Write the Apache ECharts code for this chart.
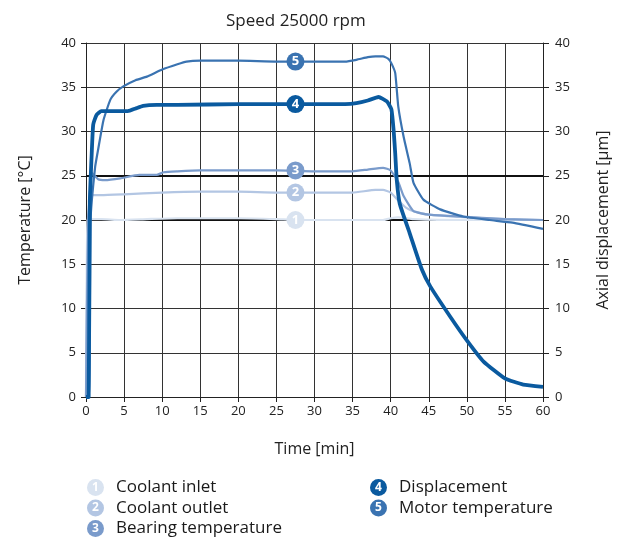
<!DOCTYPE html>
<html>
<head>
<meta charset="utf-8">
<script src="https://cdn.jsdelivr.net/npm/echarts@6/dist/echarts.min.js"></script>
<style>html,body{margin:0;padding:0;background:#fff}#c{width:621px;height:539px}</style>
</head>
<body>
<div id="c"></div>
<script>
// ---- data ----
const seriesNames = ['Coolant inlet', 'Coolant outlet', 'Bearing temperature', 'Displacement', 'Motor temperature'];
const seriesColors = ['#d9e3f0', '#b3c6e3', '#7a9bcb', '#0a5a9f', '#3a73b1'];

const inletTime = [0, 0.2, 1, 2, 4.5, 8, 12, 20, 25, 27.5, 30, 35, 39, 40, 41, 43, 50, 60];
const inletTemp = [0, 20, 20.1, 20.1, 20.0, 20.1, 20.2, 20.2, 20.1, 20.0, 20.0, 20.0, 20.0, 20.2, 20.3, 20.1, 20.0, 20.0];

const outletTime = [0, 0.25, 0.8, 2, 5, 10, 15, 20, 25, 30, 35, 38, 39, 40, 41, 42, 43, 45, 50, 55, 60];
const outletTemp = [0, 20, 22.8, 22.8, 22.9, 23.1, 23.2, 23.2, 23.1, 23.1, 23.1, 23.4, 23.4, 23.1, 22.2, 21.4, 21.0, 20.6, 20.3, 20.1, 20.0];

const bearingTime = [0, 0.3, 0.8, 1.6, 2.5, 4.5, 7, 9.3, 10.2, 12, 15, 20, 25, 30, 35, 37, 39, 40, 41, 41.7, 43, 45, 49, 55, 60];
const bearingTemp = [0, 20, 25.3, 24.6, 24.5, 24.7, 25.1, 25.1, 25.4, 25.5, 25.6, 25.6, 25.6, 25.5, 25.5, 25.7, 25.9, 25.6, 24.3, 22.7, 21.0, 20.6, 20.4, 20.1, 20.0];

const displTime = [0, 0.35, 0.5, 0.75, 0.95, 1.4, 2, 3.5, 5.5, 6.5, 7.5, 9.3, 12, 20, 30, 34, 35.5, 37, 38.4, 39.5, 40.1, 40.4, 40.6, 40.8, 41.2, 42.5, 44.1, 45.2, 47.8, 50, 52.2, 55, 57.4, 60];
const displValue = [0, 0, 22, 27.5, 30.8, 31.9, 32.3, 32.3, 32.3, 32.6, 32.9, 33.0, 33.0, 33.1, 33.1, 33.1, 33.2, 33.5, 33.9, 33.4, 32.5, 30.0, 27.5, 24.5, 21.8, 18.5, 14.4, 12.5, 9.1, 6.4, 4.0, 2.1, 1.4, 1.15];

const motorTime = [0, 0.4, 0.6, 1.2, 1.6, 2.3, 3.2, 4.0, 4.9, 6.5, 8, 10, 12, 13.2, 15, 20, 25, 30, 34, 35.5, 37, 38, 39, 39.7, 40.1, 40.6, 41, 41.7, 42.5, 43, 44.3, 46.5, 49.5, 53, 56, 60];
const motorTemp = [0, 0, 20, 26, 28, 31.3, 33.6, 34.5, 35.1, 35.8, 36.2, 37.0, 37.6, 37.9, 38.0, 38.0, 37.9, 37.9, 37.9, 38.1, 38.4, 38.5, 38.5, 38.2, 37.7, 36.6, 32.8, 29.4, 26.4, 24.2, 22.3, 21.2, 20.4, 20.0, 19.7, 19.0];

const markerTime = 27.5;
const markerValues = [20.0, 23.1, 25.6, 33.1, 37.9];

const yTicks = [0, 5, 10, 15, 20, 25, 30, 35, 40];
const xTicks = [0, 5, 10, 15, 20, 25, 30, 35, 40, 45, 50, 55, 60];
const heavyGridValues = [20, 25];

// ---- build ----
const FONT = '"Open Sans", "DejaVu Sans", sans-serif';
const zip = (a, b) => a.map((v, i) => [v, b[i]]);
const seriesData = [
  zip(inletTime, inletTemp),
  zip(outletTime, outletTemp),
  zip(bearingTime, bearingTemp),
  zip(displTime, displValue),
  zip(motorTime, motorTemp)
];

const rich = { s: { width: 12 }, t: { fontSize: 17, color: '#1a1a1a', fontFamily: FONT, lineHeight: 20 } };
seriesNames.forEach((n, i) => {
  rich['b' + i] = {
    backgroundColor: seriesColors[i], borderRadius: 9, width: 17, height: 17, lineHeight: 17,
    align: 'center', color: '#fff', fontSize: 12, fontWeight: 'bold', fontFamily: FONT
  };
});
const legendFormatter = name => {
  const i = seriesNames.indexOf(name);
  return '{b' + i + '|' + (i + 1) + '}{s|}{t|' + name + '}';
};

function makeSeries(i, z) {
  return {
    name: seriesNames[i],
    type: 'line',
    yAxisIndex: i === 3 ? 1 : 0,
    data: seriesData[i],
    showSymbol: false,
    symbol: 'none',
    smooth: 0.15,
    z: z,
    lineStyle: { color: seriesColors[i], width: i === 3 ? 3.8 : 2.2 },
    itemStyle: { color: seriesColors[i] },
    markPoint: {
      z: 20,
      symbol: 'circle',
      symbolSize: 18,
      itemStyle: { color: seriesColors[i] },
      label: { show: true, position: 'inside', formatter: String(i + 1), color: '#fff', fontWeight: 'bold', fontSize: 13, fontFamily: FONT },
      data: [{ coord: [markerTime, markerValues[i]] }]
    }
  };
}

const axisText = { fontSize: 13, color: '#222', fontFamily: FONT };

const option = {
  animation: false,
  backgroundColor: '#fff',
  title: {
    text: 'Speed 25000 rpm', left: 221, top: 8,
    textStyle: { fontSize: 17, fontWeight: 'normal', color: '#222', fontFamily: FONT }
  },
  grid: { left: 86, right: 78, top: 43, bottom: 142 },
  legend: [
    {
      data: seriesNames.slice(0, 3), orient: 'vertical', left: 81, top: 479, height: 90,
      itemWidth: 0, itemHeight: 0, itemGap: 3.5, padding: 0, formatter: legendFormatter,
      textStyle: { rich: rich, fontFamily: FONT }, selectedMode: false
    },
    {
      data: seriesNames.slice(3), orient: 'vertical', left: 364, top: 479, height: 90,
      itemWidth: 0, itemHeight: 0, itemGap: 3.5, padding: 0, formatter: legendFormatter,
      textStyle: { rich: rich, fontFamily: FONT }, selectedMode: false
    }
  ],
  xAxis: {
    type: 'value', min: xTicks[0], max: xTicks[xTicks.length - 1], interval: 5,
    name: 'Time [min]', nameLocation: 'middle', nameGap: 44,
    nameTextStyle: { fontSize: 16, color: '#222', fontFamily: FONT },
    axisLine: { show: true, lineStyle: { color: '#222', width: 1 } },
    axisTick: { show: true, length: 5, lineStyle: { color: '#222' } },
    axisLabel: Object.assign({ margin: 8 }, axisText),
    splitLine: { show: true, lineStyle: { color: '#333', width: 1 } }
  },
  yAxis: [
    {
      type: 'value', min: yTicks[0], max: yTicks[yTicks.length - 1], interval: 5,
      name: 'Temperature [°C]', nameLocation: 'middle', nameGap: 53, nameRotate: 90,
      nameTextStyle: { fontSize: 16, color: '#222', fontFamily: FONT },
      axisLine: { show: true, lineStyle: { color: '#222', width: 1 } },
      axisTick: { show: true, length: 5, lineStyle: { color: '#222' } },
      axisLabel: Object.assign({ margin: 10 }, axisText),
      splitLine: { show: true, lineStyle: { color: '#333', width: 1 } }
    },
    {
      type: 'value', min: yTicks[0], max: yTicks[yTicks.length - 1], interval: 5, position: 'right',
      name: 'Axial displacement [µm]', nameLocation: 'middle', nameGap: 52, nameRotate: 90,
      nameTextStyle: { fontSize: 16, color: '#222', fontFamily: FONT },
      axisLine: { show: true, lineStyle: { color: '#222', width: 1 } },
      axisTick: { show: true, length: 6, lineStyle: { color: '#222' } },
      axisLabel: Object.assign({ margin: 12 }, axisText),
      splitLine: { show: false }
    }
  ],
  series: [
    {
      name: 'grid-heavy', type: 'line', data: [], z: 1,
      markLine: {
        silent: true, symbol: 'none', z: 1, label: { show: false },
        lineStyle: { color: '#111', width: 2, type: 'solid' },
        data: heavyGridValues.map(v => ({ yAxis: v }))
      }
    },
    makeSeries(0, 2),
    makeSeries(1, 3),
    makeSeries(2, 4),
    makeSeries(4, 5),
    makeSeries(3, 6)
  ]
};

const chart = echarts.init(document.getElementById('c'), null, { renderer: 'canvas' });
chart.setOption(option);
</script>
</body>
</html>
